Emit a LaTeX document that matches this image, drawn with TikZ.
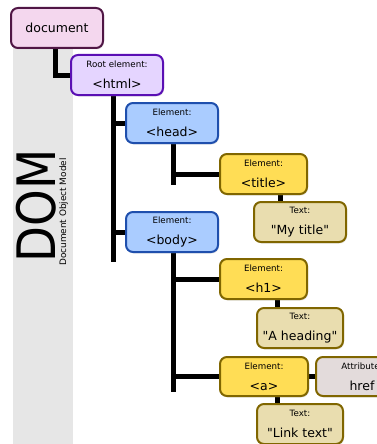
\documentclass[tikz,border=0pt]{standalone}
\usepackage{fontspec}
\setmainfont{DejaVu Sans}[Ligatures=TeXOff]
\newcommand*{\labelfont}{\fontsize{8.7}{21}\selectfont}
\newcommand*{\tagfont}{\fontsize{12.5}{21}\selectfont}
\definecolor{docfill}{HTML}{F4D7EE}
\definecolor{docline}{HTML}{501645}
\definecolor{rootfill}{HTML}{E5D5FF}
\definecolor{rootline}{HTML}{5A0FB4}
\definecolor{elemfill}{HTML}{AACCFF}
\definecolor{elemline}{HTML}{1F4FAD}
\definecolor{tagfill}{HTML}{FFDD55}
\definecolor{tagline}{HTML}{806600}
\definecolor{textfill}{HTML}{E9DDAF}
\definecolor{attrfill}{HTML}{E3DBDB}
\definecolor{strip}{HTML}{E6E6E6}
\usetikzlibrary{positioning}
\usetikzlibrary{backgrounds}
\usetikzlibrary{shadows}
\tikzstyle{base}=[x=1pt, y=-1pt]
\tikzstyle{box}=[draw, line width=2pt, rounded corners=7pt, minimum height=40pt,
    inner sep=0pt, align=center, font=\tagfont,
    drop shadow={shadow xshift=1pt, shadow yshift=-1.5pt, opacity=0.18}]
\tikzstyle{docbox}=[box, fill=docfill, draw=docline]
\tikzstyle{rootbox}=[box, fill=rootfill, draw=rootline]
\tikzstyle{elembox}=[box, fill=elemfill, draw=elemline]
\tikzstyle{tagbox}=[box, fill=tagfill, draw=tagline]
\tikzstyle{textbox}=[box, fill=textfill, draw=tagline]
\tikzstyle{attrbox}=[box, fill=attrfill, draw=tagline]
\tikzstyle{wire}=[line width=5pt, black]

\begin{document}
\begin{tikzpicture}[base]
    \useasboundingbox (0,0) rectangle (377,444);

    % side title
    \node [rotate=90, anchor=base west, inner sep=0pt, font=\fontsize{53}{53}\selectfont]
        (dom) at (55,262.5) {\scalebox{0.88}[1]{DOM}};
    \node [rotate=90, anchor=base west, inner sep=0pt, font=\fontsize{8.9}{9}\selectfont]
        (domname) at (66,266) {Document Object Model};

    % tree
    \node [docbox, minimum width=92pt] (document) at (57,28) {document};
    \node [rootbox, minimum width=92pt] (html) at (117,75) {{\labelfont Root element:}\\<html>};
    \node [elembox, minimum width=92pt] (head) at (172,123) {{\labelfont Element:}\\<head>};
    \node [elembox, minimum width=92pt] (body) at (172,232) {{\labelfont Element:}\\<body>};
    \node [tagbox, minimum width=87pt] (title) at (263.5,174) {{\labelfont Element:}\\<title>};
    \node [textbox, minimum width=92pt] (mytitle) at (300,222) {{\labelfont Text:}\\"My title"};
    \node [tagbox, minimum width=87pt] (h1) at (263.5,279) {{\labelfont Element:}\\<h1>};
    \node [textbox, minimum width=86pt] (heading) at (300,328) {{\labelfont Text:}\\"A heading"};
    \node [tagbox, minimum width=88pt, minimum height=39pt] (a) at (264,376.5) {{\labelfont Element:}\\<a>};
    \node [attrbox, minimum width=92pt, minimum height=39pt] (href) at (362,376.5) {{\labelfont Attribute:}\\href};
    \node [textbox, minimum width=86pt] (linktext) at (300,424) {{\labelfont Text:}\\"Link text"};

    \coordinate (htmlend) at (113,262);
    \coordinate (headend) at (173,185);
    \coordinate (bodyend) at (173,392);

    % connectors
    \begin{scope}[on background layer]
        \fill [strip] (13,28) rectangle (73,444);
        \draw [wire] (55,28 -| document.south) ++(-2,0) |- (html.west);
        \draw [wire] (html.south -| htmlend) -- (htmlend);
        \draw [wire] (head.west -| htmlend) -- (head.west);
        \draw [wire] (body.west -| htmlend) -- (body.west);
        \draw [wire] (head.south -| headend) -- (headend);
        \draw [wire] (title.west -| headend) -- (title.west);
        \draw [wire] (title.south -| mytitle.north) ++(-20,0) -- ++(0,10);
        \draw [wire] (body.south -| bodyend) -- (bodyend);
        \draw [wire] (h1.west -| bodyend) -- (h1.west);
        \draw [wire] (a.west -| bodyend) -- (a.west);
        \draw [wire] (h1.south -| heading.north) ++(-23,0) -- ++(0,10);
        \draw [wire] (a.south -| linktext.north) ++(-23,0) -- ++(0,10);
        \draw [wire] (a.east) -- (href.west);
    \end{scope}
\end{tikzpicture}
\end{document}
